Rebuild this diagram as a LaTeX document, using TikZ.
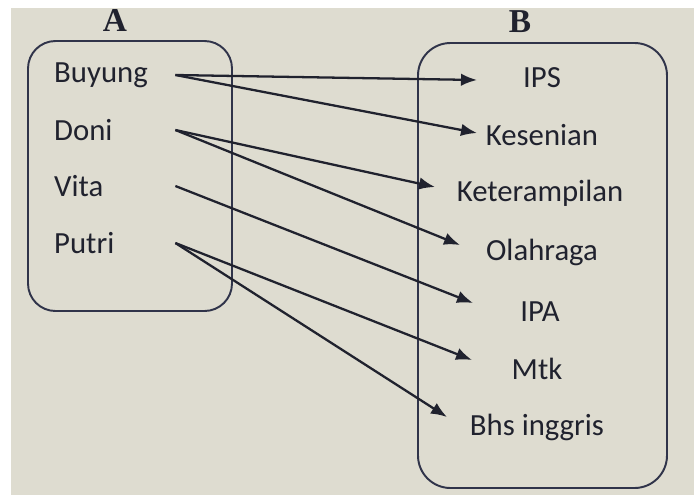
\documentclass[tikz,border=0pt]{standalone}
\usepackage{fontspec}
\setmainfont{Carlito}
\newfontfamily\headfont{Liberation Serif}
\usepackage{xcolor}
\usetikzlibrary{arrows.meta}

\definecolor{paper}{RGB}{222,220,208}
\definecolor{ink}{RGB}{32,34,46}
\definecolor{frame}{RGB}{48,52,74}

\begin{document}
\begin{tikzpicture}[
    x=0.02cm, y=-0.02cm,
    >={Latex[length=3.2mm,width=2.5mm]},
    setbox/.style={draw=frame, line width=1.1pt},
    head/.style={font=\headfont\bfseries\fontsize{19}{21}\selectfont, text=ink},
    from/.style={anchor=west, text width=2.3cm, align=left, font=\fontsize{17.5}{20}\selectfont, text=ink},
    into/.style={font=\fontsize{17.5}{20}\selectfont, text=ink},
    map/.style={->, draw=ink, line width=1.3pt}
]
\useasboundingbox (0,0) rectangle (694,495);
\fill[white] (0,0) rectangle (694,495);
\fill[paper] (11,8) rectangle (694,495);

% the two sets
\draw[setbox, rounded corners=0.55cm] (28,41) rectangle (232,311);
\draw[setbox, rounded corners=0.65cm] (418,43) rectangle (667,488);
\node[head] (seta) at (115,20) {A};
\node[head] (setb) at (520,22) {B};

% domain
\node[from] (buyung) at (48,75) {Buyung};
\node[from] (doni) at (48,130) {Doni};
\node[from] (vita) at (48,186) {Vita};
\node[from] (putri) at (48,243) {Putri};

% codomain
\node[into] (ips) at (542,78) {IPS};
\node[into] (kes) at (542,135) {Kesenian};
\node[into] (ket) at (540,193) {Keterampilan};
\node[into] (ola) at (542,252) {Olahraga};
\node[into] (ipa) at (540,312) {IPA};
\node[into] (mtk) at (537,369) {Mtk};
\node[into] (bhs) at (537,427) {Bhs inggris};

% arrow tips
\coordinate (tipips) at (477,80);
\coordinate (tipkes) at (477,133);
\coordinate (tipket) at (435,187);
\coordinate (tipola) at (460,245);
\coordinate (tipipa) at (473,303);
\coordinate (tipmtk) at (472,360);
\coordinate (tipbhs) at (447,417);

\draw[map] (buyung.east) -- (tipips);
\draw[map] (buyung.east) -- (tipkes);
\draw[map] (doni.east) -- (tipket);
\draw[map] (doni.east) -- (tipola);
\draw[map] (vita.east) -- (tipipa);
\draw[map] (putri.east) -- (tipmtk);
\draw[map] (putri.east) -- (tipbhs);
\end{tikzpicture}
\end{document}
